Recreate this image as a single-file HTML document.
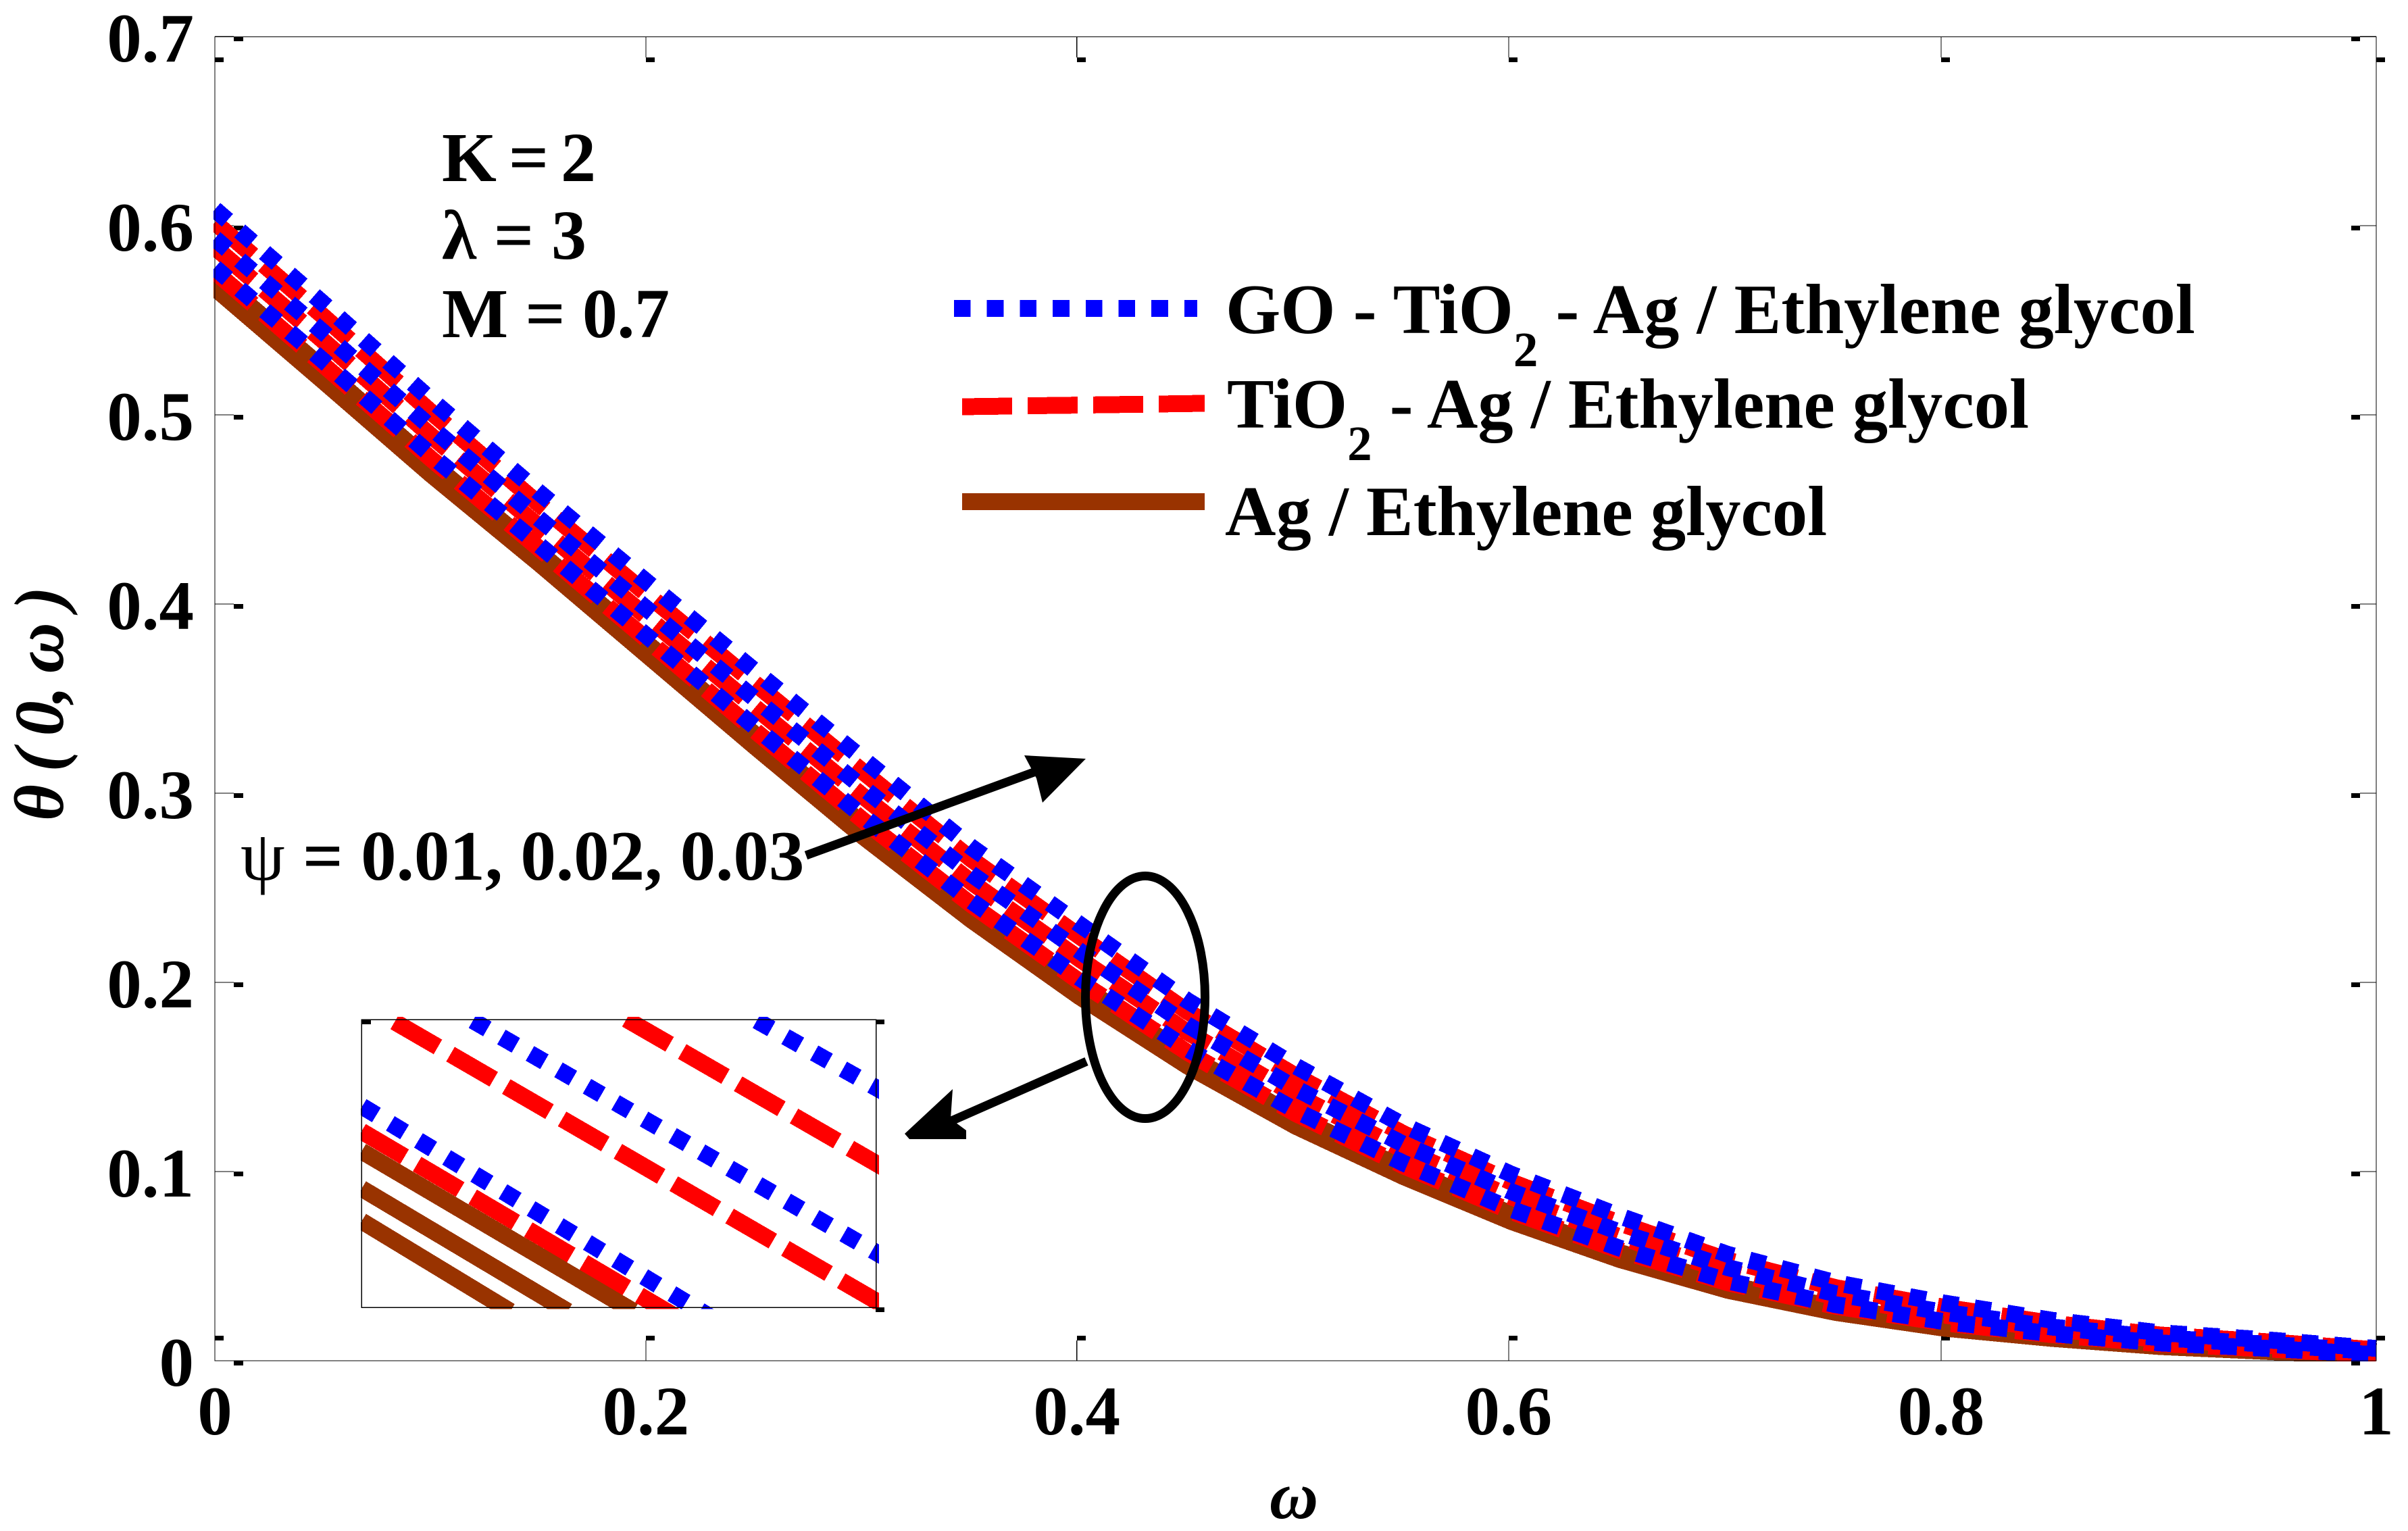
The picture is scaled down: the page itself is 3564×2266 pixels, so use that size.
<!DOCTYPE html>
<html lang="en">
<head>
<meta charset="utf-8">
<title>Temperature profile chart</title>
<style>
  html, body { margin: 0; padding: 0; background: #ffffff; }
  svg { display: block; }
  text { font-family: "Liberation Serif", serif; font-weight: bold; fill: #000000; }
  .shape { shape-rendering: crispEdges; }
</style>
</head>
<body>
<svg id="chart" xmlns="http://www.w3.org/2000/svg" width="3564" height="2266" viewBox="0 0 3564 2266">
  <defs>
    <clipPath id="plot-clip"><rect x="316" y="54" width="3202" height="1961"></rect></clipPath>
    <clipPath id="inset-clip"><rect x="534" y="1505" width="767" height="432.5"></rect></clipPath>
  </defs>
  <rect x="0" y="0" width="3564" height="2266" fill="#ffffff"></rect>
  <g id="ticks"></g>
  <g id="tick-labels"></g>
  <g id="curves" clip-path="url(#plot-clip)"></g>
  <rect class="shape" x="318" y="54.5" width="3199" height="1959.5" fill="none" stroke="#000" stroke-width="1.4"></rect>

  <text transform="translate(93,1215) rotate(-90)" font-size="104" font-style="italic" textLength="347" lengthAdjust="spacing">θ ( 0, ω )</text>
  <text x="1915" y="2247" font-size="100" font-style="italic" text-anchor="middle">ω</text>

  <text x="654" y="268" font-size="104" textLength="228" lengthAdjust="spacing">K = 2</text>
  <text x="654" y="383" font-size="104" textLength="214" lengthAdjust="spacing">λ = 3</text>
  <text x="654" y="499" font-size="104" textLength="337" lengthAdjust="spacing">M = 0.7</text>

  <g>
    <line class="shape" x1="1412" y1="456.5" x2="1772" y2="456.5" stroke="#0000ff" stroke-width="25" stroke-dasharray="24.7 24"></line>
    <text x="1814" y="493" font-size="104.5">GO - TiO<tspan font-size="73" dy="49">2</tspan><tspan dy="-49"> - Ag / Ethylene glycol</tspan></text>
    <line class="shape" x1="1424" y1="602" x2="1783" y2="597" stroke="#ff0000" stroke-width="25" stroke-dasharray="74 23"></line>
    <text x="1816" y="633" font-size="104.5">TiO<tspan font-size="73" dy="48">2</tspan><tspan dy="-48"> - Ag / Ethylene glycol</tspan></text>
    <line class="shape" x1="1424" y1="742.5" x2="1783" y2="742.5" stroke="#993300" stroke-width="25"></line>
    <text x="1813" y="792" font-size="104.5">Ag / Ethylene glycol</text>
  </g>

  <text x="356" y="1302" font-size="105"><tspan font-weight="normal">ψ</tspan> = 0.01, 0.02, 0.03</text>
  <g>
    <line x1="1193" y1="1266" x2="1560" y2="1132" stroke="#000" stroke-width="13"></line>
    <polygon points="1607,1123 1516,1118 1534,1152 1543,1188" fill="#000"></polygon>
  </g>

  <g id="inset">
    <rect x="535.3" y="1509.3" width="761.4" height="426" fill="#ffffff"></rect>
    <g id="inset-curves" clip-path="url(#inset-clip)"></g>
    <rect class="shape" x="535.3" y="1509.3" width="761.4" height="426" fill="none" stroke="#000" stroke-width="1.2"></rect>
    <rect class="shape" x="535" y="1509" width="14" height="7" fill="#000"></rect>
    <rect class="shape" x="1296" y="1509" width="13" height="7" fill="#000"></rect>
    <rect class="shape" x="1296" y="1935" width="13" height="7" fill="#000"></rect>
  </g>

  <ellipse cx="1695" cy="1476" rx="88.5" ry="179.5" fill="none" stroke="#000" stroke-width="13"></ellipse>
  <g>
    <line x1="1608" y1="1571" x2="1407" y2="1659.5" stroke="#000" stroke-width="13"></line>
    <polygon points="1339,1678 1410,1612 1407,1656 1430,1673 1430,1686 1346,1686" fill="#000"></polygon>
  </g>
</svg>

<script>
// Horizontal positions sampled along each curve
const omega = [0, 0.05, 0.1, 0.15, 0.2, 0.25, 0.3, 0.35, 0.4, 0.45, 0.5, 0.55, 0.6, 0.65, 0.7, 0.75, 0.8, 0.85, 0.9, 0.95, 1];

// GO - TiO2 - Ag / Ethylene glycol (blue dotted), psi = 0.03, 0.02, 0.01
const blueUpper = [0.6086, 0.559, 0.508, 0.459, 0.4115, 0.3645, 0.318, 0.2715, 0.2307, 0.1903, 0.1558, 0.1245, 0.0985, 0.0765, 0.0562, 0.0412, 0.0305, 0.0214, 0.0148, 0.011, 0.0065];
const blueMiddle = [0.5932, 0.5438, 0.4934, 0.4451, 0.3973, 0.3497, 0.3028, 0.2573, 0.2166, 0.1775, 0.144, 0.1144, 0.0893, 0.068, 0.0492, 0.0354, 0.0256, 0.0178, 0.0121, 0.0087, 0.0048];
const blueLower = [0.5778, 0.5287, 0.4788, 0.4312, 0.383, 0.3349, 0.2877, 0.243, 0.2024, 0.1648, 0.1323, 0.1044, 0.08, 0.0595, 0.0421, 0.0296, 0.0207, 0.0143, 0.0094, 0.0065, 0.0032];

// TiO2 - Ag / Ethylene glycol (red dashed)
const redUpper = [0.6017, 0.5522, 0.5015, 0.4528, 0.4051, 0.3579, 0.3112, 0.2651, 0.2244, 0.1846, 0.1506, 0.12, 0.0944, 0.0727, 0.0531, 0.0386, 0.0283, 0.0198, 0.0136, 0.01, 0.0058];
const redMiddle = [0.5886, 0.5393, 0.489, 0.441, 0.393, 0.3453, 0.2983, 0.253, 0.2124, 0.1737, 0.1405, 0.1114, 0.0865, 0.0655, 0.0471, 0.0337, 0.0241, 0.0168, 0.0113, 0.0081, 0.0043];
const redLower = [0.5757, 0.5266, 0.4768, 0.4294, 0.3811, 0.3329, 0.2856, 0.2411, 0.2005, 0.163, 0.1307, 0.103, 0.0788, 0.0583, 0.0412, 0.0288, 0.02, 0.0138, 0.009, 0.0062, 0.0029];

// Ag / Ethylene glycol (brown solid)
const brownUpper = [0.5737, 0.5246, 0.4748, 0.4275, 0.3792, 0.3309, 0.2836, 0.2392, 0.1986, 0.1613, 0.1291, 0.1017, 0.0775, 0.0572, 0.0402, 0.028, 0.0193, 0.0133, 0.0087, 0.0059, 0.0027];
const brownMiddle = [0.5701, 0.5211, 0.4715, 0.4243, 0.3759, 0.3275, 0.2801, 0.2359, 0.1954, 0.1584, 0.1264, 0.0993, 0.0754, 0.0552, 0.0386, 0.0267, 0.0182, 0.0125, 0.008, 0.0054, 0.0023];
const brownLower = [0.567, 0.518, 0.4685, 0.4215, 0.373, 0.3245, 0.277, 0.233, 0.1925, 0.1558, 0.124, 0.0973, 0.0735, 0.0535, 0.0372, 0.0255, 0.0172, 0.0118, 0.0075, 0.0049, 0.002];

// Axis ticks
const xTickValues = [0, 0.1994, 0.3988, 0.5986, 0.7987, 1];
const xTickLabels = ["0", "0.2", "0.4", "0.6", "0.8", "1"];
const yTickValues = [0, 0.1, 0.2, 0.3, 0.4, 0.5, 0.6, 0.7];
const yTickLabels = ["0", "0.1", "0.2", "0.3", "0.4", "0.5", "0.6", "0.7"];

// Inset segments, order: brown lower/middle/upper, red lower/middle/upper, blue lower/middle/upper
const insetOmegaStart = [0.42, 0.42, 0.42, 0.41999, 0.42221, 0.43775, 0.42003, 0.42746, 0.4465];
const insetOmegaEnd = [0.42997, 0.43382, 0.43823, 0.44106, 0.45601, 0.45601, 0.44559, 0.45601, 0.45601];
const insetThetaStart = [0.17623, 0.17888, 0.18191, 0.18353, 0.19243, 0.19264, 0.18556, 0.19253, 0.19253];
const insetThetaEnd = [0.1689, 0.1689, 0.1689, 0.16846, 0.16867, 0.17987, 0.16682, 0.17263, 0.18604];
const insetColors = ["#993300", "#993300", "#993300", "#ff0000", "#ff0000", "#ff0000", "#0000ff", "#0000ff", "#0000ff"];
const insetDashes = ["none", "none", "none", "74 21.5", "74 21.5", "74 21.5", "24.7 24", "24.7 24", "24.7 24"];
const insetNames = ["inset-ag-lower", "inset-ag-middle", "inset-ag-upper", "inset-tio2-ag-lower", "inset-tio2-ag-middle", "inset-tio2-ag-upper", "inset-go-tio2-ag-lower", "inset-go-tio2-ag-middle", "inset-go-tio2-ag-upper"];

const SVG_NS = "http://www.w3.org/2000/svg";
const xScale = function (w) { return 318 + 3199 * w; };
const yScale = function (t) { return 2014 - 2800 * t; };
const insetX = function (w) { return 535.3 + (w - 0.42) / 0.0345 * 761.4; };
const insetY = function (t) { return 1509.3 + (0.1926 - t) / 0.0234 * 426; };

const tickGroup = document.getElementById("ticks");
const labelGroup = document.getElementById("tick-labels");
const curveGroup = document.getElementById("curves");
const insetGroup = document.getElementById("inset-curves");

function drawBox(x, y, w, h) {
  const el = document.createElementNS(SVG_NS, "rect");
  el.setAttribute("class", "shape");
  el.setAttribute("x", x);
  el.setAttribute("y", y);
  el.setAttribute("width", w);
  el.setAttribute("height", h);
  el.setAttribute("fill", "#000");
  
  
  tickGroup.appendChild(el);
}

function drawStem(x1, y1, x2, y2) {
  const el = document.createElementNS(SVG_NS, "line");
  el.setAttribute("class", "shape");
  el.setAttribute("x1", x1);
  el.setAttribute("y1", y1);
  el.setAttribute("x2", x2);
  el.setAttribute("y2", y2);
  el.setAttribute("stroke", "#000");
  el.setAttribute("stroke-width", "1.2");
  
  
  tickGroup.appendChild(el);
}

xTickValues.forEach(function (v, i) {
  const x = xScale(v);
  drawStem(x, 2014, x, 1984);
  drawBox(x, 1977, 13, 7);
  drawStem(x, 54, x, 85);
  drawBox(x, 85, 13, 7);
  const label = document.createElementNS(SVG_NS, "text");
  label.setAttribute("x", x);
  label.setAttribute("y", 2123);
  label.setAttribute("font-size", "103");
  label.setAttribute("text-anchor", "middle");
  
  
  label.textContent = xTickLabels[i];
  labelGroup.appendChild(label);
});

yTickValues.forEach(function (v, i) {
  const y = yScale(v);
  drawStem(318, y, 346, y);
  drawBox(346, y, 14, 7);
  drawStem(3517, y, 3493, y);
  drawBox(3480, y, 13, 7);
  const label = document.createElementNS(SVG_NS, "text");
  label.setAttribute("x", 287);
  label.setAttribute("y", y + 37);
  label.setAttribute("font-size", "103");
  label.setAttribute("text-anchor", "end");
  
  
  label.textContent = yTickLabels[i];
  labelGroup.appendChild(label);
});

function drawCurve(values, color, dash, name) {
  const el = document.createElementNS(SVG_NS, "polyline");
  const pts = omega.map(function (w, i) { return xScale(w).toFixed(1) + "," + yScale(values[i]).toFixed(1); });
  el.setAttribute("points", pts.join(" "));
  el.setAttribute("class", "shape");
  el.setAttribute("fill", "none");
  el.setAttribute("stroke", color);
  el.setAttribute("stroke-width", "25");
  el.setAttribute("stroke-linejoin", "miter");
  if (dash) { el.setAttribute("stroke-dasharray", dash); }
  
  
  curveGroup.appendChild(el);
}

drawCurve(brownUpper, "#993300", "", "ag-curve-upper");
drawCurve(brownMiddle, "#993300", "", "ag-curve-middle");
drawCurve(brownLower, "#993300", "", "ag-curve-lower");
drawCurve(redLower, "#ff0000", "74 21.5", "tio2-ag-curve-lower");
drawCurve(redMiddle, "#ff0000", "74 21.5", "tio2-ag-curve-middle");
drawCurve(redUpper, "#ff0000", "74 21.5", "tio2-ag-curve-upper");
drawCurve(blueLower, "#0000ff", "24.7 24", "go-tio2-ag-curve-lower");
drawCurve(blueMiddle, "#0000ff", "24.7 24", "go-tio2-ag-curve-middle");
drawCurve(blueUpper, "#0000ff", "24.7 24", "go-tio2-ag-curve-upper");

insetOmegaStart.forEach(function (w, i) {
  const el = document.createElementNS(SVG_NS, "line");
  el.setAttribute("x1", insetX(w).toFixed(1));
  el.setAttribute("y1", insetY(insetThetaStart[i]).toFixed(1));
  el.setAttribute("x2", insetX(insetOmegaEnd[i]).toFixed(1));
  el.setAttribute("y2", insetY(insetThetaEnd[i]).toFixed(1));
  el.setAttribute("class", "shape");
  el.setAttribute("stroke", insetColors[i]);
  el.setAttribute("stroke-width", "25");
  if (insetDashes[i] !== "none") { el.setAttribute("stroke-dasharray", insetDashes[i]); }
  
  
  insetGroup.appendChild(el);
});
</script>
</body>
</html>
